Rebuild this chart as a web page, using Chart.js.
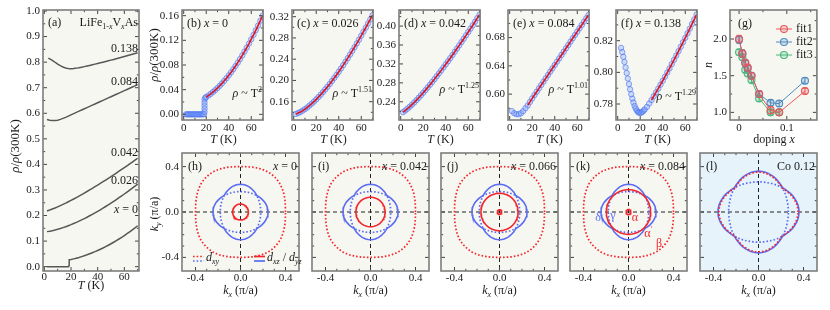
<!DOCTYPE html>
<html>
<head>
<meta charset="utf-8">
<script src="https://cdn.jsdelivr.net/npm/chart.js@4.4.1/dist/chart.umd.min.js"></script>
<style>
  body { margin: 0; background: #fff; }
  #fig { position: relative; width: 830px; height: 310px; overflow: hidden; background: #fff; }
  #fig canvas { position: absolute; }
</style>
</head>
<body>
<div id="fig"></div>
<script>
// ---- values ----

// (a)-(f): rho/rho(300K) of LiFe1-xVxAs against T (K)
const tX0 = [2,3,4,5,6,7,8,9,10,11,12,13,14,15,16,17,18,18.5,18.5,18.5,18.5,18.5,19.2,
  20,22,24,26,28,30,32,34,36,38,40,42,44,46,48,50,52,54,56,58,60,62,64,66,68,70];
const rhoX0 = [0,0,0,0,0,0,0,0,0,0,0,0,0,0,0,0,0,0.004,0.009,0.014,0.019,0.024,0.027,
  0.028,0.0305,0.0332,0.0361,0.0393,0.0427,0.0463,0.0502,0.0543,0.0586,0.0632,0.0680,0.0730,
  0.0783,0.0838,0.0895,0.0955,0.1017,0.1082,0.1148,0.1218,0.1289,0.1363,0.1439,0.1518,0.1599];
const tGrid = [2,4,6,8,10,12,14,16,18,20,22,24,26,28,30,32,34,36,38,40,42,44,46,48,50,52,54,56,58,60,62,64,66,68,70];
const rhoX026 = [0.1370,0.1386,0.1407,0.1432,0.1460,0.1491,0.1526,0.1562,0.1602,0.1643,0.1687,0.1732,
  0.1780,0.1830,0.1881,0.1934,0.1990,0.2046,0.2104,0.2164,0.2225,0.2288,0.2353,0.2419,0.2486,0.2555,
  0.2625,0.2697,0.2768,0.2842,0.2917,0.2994,0.3072,0.3150,0.3230];
const rhoX042 = [0.2180,0.2214,0.2253,0.2294,0.2339,0.2386,0.2435,0.2485,0.2538,0.2591,0.2646,0.2703,
  0.2760,0.2819,0.2879,0.2940,0.3001,0.3064,0.3127,0.3192,0.3256,0.3322,0.3389,0.3457,0.3525,0.3593,
  0.3663,0.3733,0.3804,0.3875,0.3946,0.4018,0.4092,0.4167,0.4241];
const rhoX084 = [0.576,0.573,0.5715,0.5715,0.573,0.576,0.580,0.584,0.589,0.594,0.5987,0.6034,0.6082,
  0.6129,0.6176,0.6223,0.627,0.6318,0.6365,0.6412,0.646,0.6506,0.6554,0.66,0.6648,0.6695,0.6742,
  0.679,0.6837,0.6884,0.6931,0.6978,0.7026,0.7073,0.712];
const tX138 = [3,4,5,6,7,8,9,10,11,12,13,14,15,16,17,18,19,20,21,22,23,24,
  26,28,30,32,34,36,38,40,42,44,46,48,50,52,54,56,58,60,62,64,66,68,70];
const rhoX138 = [0.8155,0.8128,0.8098,0.8066,0.8031,0.7996,0.7961,0.7926,0.7893,0.7862,0.7834,0.7809,
  0.7788,0.7772,0.7759,0.7750,0.7745,0.7744,0.7746,0.7751,0.7758,0.7766,
  0.7782,0.7803,0.7825,0.7849,0.7873,0.7897,0.7922,0.7947,0.7973,0.7999,0.8025,0.8052,0.8079,0.8106,
  0.8134,0.8162,0.8190,0.8218,0.8247,0.8276,0.8306,0.8335,0.8365];
const dopLabels = ['0', '0.026', '0.042', '0.084', '0.138'];
const fitFromT = [20, 2, 2, 16, 30];          // where the red power-law fit starts
const fitExp = ['2', '1.51', '1.25', '1.01', '1.29'];

// (g) fitted exponent n against doping x
const dopX = [0, 0.007, 0.013, 0.018, 0.026, 0.042, 0.066, 0.084, 0.138];
const nFit1 = [2.00, 1.80, 1.68, 1.61, 1.50, 1.25, 1.03, 1.00, 1.29];
const nFit2 = [1.99, 1.80, 1.67, 1.60, 1.50, 1.25, 1.13, 1.12, 1.43];
const nFit3 = [1.82, 1.75, 1.58, 1.53, 1.44, 1.19, 1.00, 1.00];
const errFit1 = [0.05, 0.05, 0.04, 0.04, 0.04, 0.04, 0.05, 0.04, 0.04];
const errFit2 = [0.05, 0.05, 0.04, 0.04, 0.04, 0.04, 0.04, 0.04, 0.04];
const errFit3 = [0.04, 0.04, 0.04, 0.04, 0.04, 0.04, 0.04, 0.04];

// (h)-(l) Fermi surfaces: kF (pi/a) over one octant, angles in degrees
const fsAng = [0, 5, 10, 15, 20, 25, 30, 35, 40, 45];
const kOuter = [0.245, 0.244, 0.242, 0.238, 0.234, 0.228, 0.222, 0.217, 0.211, 0.205];
const kInner = [0.180, 0.180, 0.181, 0.183, 0.185, 0.188, 0.191, 0.195, 0.200, 0.205];
const kBeta = [0.400, 0.401, 0.404, 0.409, 0.414, 0.420, 0.425, 0.430, 0.432, 0.433];
const kOuterCo = [0.360, 0.359, 0.356, 0.350, 0.343, 0.336, 0.327, 0.318, 0.310, 0.302];
const kInnerCo = [0.265, 0.266, 0.267, 0.269, 0.272, 0.277, 0.282, 0.288, 0.294, 0.302];
const kRedCo = [0.352, 0.351, 0.348, 0.343, 0.336, 0.329, 0.321, 0.313, 0.305, 0.298];
const kAlphaP = [0.07, 0.13, 0.165, 0.197];    // alpha' pocket for x = 0, 0.042, 0.066, 0.084
const kAlpha = [0, 0, 0.02, 0.022];
const fsLabels = ['x = 0', 'x = 0.042', 'x = 0.066', 'x = 0.084', 'Co 0.12'];

// tick labels
const tTicks = [0, 20, 40, 60], tMinor = [10, 30, 50, 70];
const aTicks = [0, 0.1, 0.2, 0.3, 0.4, 0.5, 0.6, 0.7, 0.8, 0.9, 1.0];
const aMinor = [0.05, 0.15, 0.25, 0.35, 0.45, 0.55, 0.65, 0.75, 0.85, 0.95];
const topTicks = [
  [0, 0.04, 0.08, 0.12, 0.16], [0.16, 0.20, 0.24, 0.28, 0.32], [0.24, 0.28, 0.32, 0.36, 0.40],
  [0.60, 0.64, 0.68], [0.78, 0.80, 0.82]];
const topMinor = [
  [0.02, 0.06, 0.10, 0.14], [0.14, 0.18, 0.22, 0.26, 0.30], [0.22, 0.26, 0.30, 0.34, 0.38, 0.42],
  [0.58, 0.62, 0.66, 0.70], [0.79, 0.81, 0.83]];
const nTicks = [1.0, 1.5, 2.0], nMinor = [1.25, 1.75, 2.25];
const xTicks = [0, 0.1], xMinor = [0.05, 0.15];
const kTicks = [-0.4, 0, 0.4], kMinor = [-0.3, -0.2, -0.1, 0.1, 0.2, 0.3];

// ---- drawing ----
const SERIF = '"Liberation Serif", "Times New Roman", serif';
Chart.defaults.font.family = SERIF;
Chart.defaults.font.size = 11;
Chart.defaults.color = '#1a1a1a';
const fig = document.getElementById('fig');
const RED = '#f2262b', BLUE = '#5a6cf2', DOT = [1.6, 2];

const pts = (xs, ys) => ys.map((y, i) => ({ x: xs[i], y }));
const isMajor = (list, v) => list.some(m => Math.abs(m - v) < 1e-9);

// text with italic / sub / sup pieces
function rich(ctx, parts, x, y, o = {}) {
  const size = o.size || 12, align = o.align || 'left';
  const font = p => (p.i ? 'italic ' : '') + (p.s ? Math.round(size * 0.68) : size) + 'px ' + SERIF;
  let w = 0;
  for (const p of parts) { ctx.font = font(p); w += ctx.measureText(p.t).width; }
  ctx.save();
  ctx.translate(x, y);
  if (o.rot) ctx.rotate(o.rot);
  let cx = align === 'right' ? -w : align === 'center' ? -w / 2 : 0;
  ctx.fillStyle = o.color || '#1a1a1a';
  ctx.textBaseline = 'middle';
  ctx.textAlign = 'left';
  for (const p of parts) {
    ctx.font = font(p);
    const dy = p.s === 'sub' ? size * 0.32 : p.s === 'sup' ? -size * 0.38 : 0;
    ctx.fillText(p.t, cx, dy);
    cx += ctx.measureText(p.t).width;
  }
  ctx.restore();
}

// plot background, frame and inward ticks on all four sides
Chart.register({
  id: 'frame',
  defaults: { bg: '#f7f7f2' },
  beforeDraw(chart, args, opts) {
    const { ctx, chartArea: c } = chart;
    ctx.save();
    ctx.fillStyle = opts.bg;
    ctx.fillRect(c.left, c.top, c.width, c.height);
    ctx.restore();
  },
  afterDatasetsDraw(chart) {
    const { ctx, chartArea: c } = chart;
    ctx.save();
    ctx.strokeStyle = '#444';
    ctx.lineWidth = 1;
    for (const s of [chart.scales.x, chart.scales.y]) {
      for (const t of s.ticks) {
        const L = isMajor(s._majors, t.value) ? 4 : 2.2;
        const p = s.getPixelForValue(t.value);
        ctx.beginPath();
        if (s.isHorizontal()) {
          ctx.moveTo(p, c.bottom); ctx.lineTo(p, c.bottom - L);
          ctx.moveTo(p, c.top); ctx.lineTo(p, c.top + L);
        } else {
          ctx.moveTo(c.left, p); ctx.lineTo(c.left + L, p);
          ctx.moveTo(c.right, p); ctx.lineTo(c.right - L, p);
        }
        ctx.stroke();
      }
    }
    ctx.strokeStyle = '#7d7d7d';
    ctx.lineWidth = 1.6;
    ctx.strokeRect(c.left, c.top, c.width, c.height);
    ctx.restore();
  }
});

function axis(o) {
  return {
    type: 'linear', min: o.min, max: o.max,
    grid: { display: false, drawTicks: false },
    border: { display: false },
    ticks: {
      display: o.show !== false, padding: o.pad, autoSkip: false, maxRotation: 0,
      font: { size: 11 }, color: '#1a1a1a',
      callback: v => (isMajor(o.major, v) ? o.fmt(v) : '')
    },
    afterBuildTicks: s => {
      s._majors = o.major;
      s.ticks = o.major.concat(o.minor).sort((a, b) => a - b).map(v => ({ value: v }));
    },
    afterFit: s => {
      if (s.isHorizontal()) s.height = o.size; else s.width = o.size;
      s.paddingLeft = s.paddingRight = s.paddingTop = s.paddingBottom = 0;
    }
  };
}

// one canvas per panel, placed so that its plot area lands on box (page px)
function makeChart(box, m, datasets, xs, ys, opt = {}) {
  const cv = document.createElement('canvas');
  const W = m.l + box.w + m.r, H = m.t + box.h + m.b;
  const ox = box.l - m.l, oy = box.t - m.t;
  cv.width = W; cv.height = H;
  Object.assign(cv.style, { left: ox + 'px', top: oy + 'px', width: W + 'px', height: H + 'px' });
  fig.appendChild(cv);
  const hook = fn => chart => {
    if (!fn) return;
    const c = chart.ctx;
    c.save(); c.translate(-ox, -oy); fn(c, chart, ox, oy); c.restore();
  };
  return new Chart(cv, {
    type: 'scatter',
    data: { datasets },
    options: {
      responsive: false, animation: false, devicePixelRatio: 1,
      layout: { padding: { left: m.l - ys.size, right: m.r, top: m.t, bottom: m.b - xs.size } },
      scales: { x: axis(xs), y: axis(ys) },
      plugins: { legend: { display: false }, tooltip: { enabled: false }, frame: { bg: opt.bg || '#f7f7f2' } }
    },
    plugins: [{ id: 'notes', beforeDatasetsDraw: hook(opt.under), afterDraw: hook(opt.over) }]
  });
}

const ROT = -Math.PI / 2;
const rhoTitle = [{ t: 'ρ', i: 1 }, { t: '/' }, { t: 'ρ', i: 1 }, { t: '(300K)' }];
const tTitle = [{ t: 'T', i: 1 }, { t: ' (K)' }];
const fmt1 = v => v.toFixed(1), fmt2 = v => v.toFixed(2), fmt0 = v => String(v);

// ---- (a) ----
const curvesA = [[tX0, rhoX0], [tGrid, rhoX026], [tGrid, rhoX042], [tGrid, rhoX084], [tX138, rhoX138]];
makeChart({ l: 43, t: 10, w: 96, h: 261 }, { l: 43, t: 10, r: 4, b: 38 },
  curvesA.map(([t, r]) => ({ data: pts(t, r), showLine: true, borderColor: '#575757', borderWidth: 1.5, pointRadius: 0 })),
  { min: -1, max: 71, major: tTicks, minor: tMinor, fmt: fmt0, size: 14, pad: 0 },
  { min: -0.017, max: 1.004, major: aTicks, minor: aMinor, fmt: fmt1, size: 26, pad: 3 },
  {
    over: ctx => {
      rich(ctx, [{ t: '(a)' }], 48, 23);
      rich(ctx, [{ t: 'LiFe' }, { t: '1-', s: 'sub' }, { t: 'x', i: 1, s: 'sub' }, { t: 'V' },
        { t: 'x', i: 1, s: 'sub' }, { t: 'As' }], 138, 23, { align: 'right' });
      rich(ctx, [{ t: '0.138' }], 138, 49, { align: 'right' });
      rich(ctx, [{ t: '0.084' }], 138, 82, { align: 'right' });
      rich(ctx, [{ t: '0.042' }], 138, 153, { align: 'right' });
      rich(ctx, [{ t: '0.026' }], 138, 181, { align: 'right' });
      rich(ctx, [{ t: 'x', i: 1 }, { t: ' = 0' }], 138, 210, { align: 'right' });
      rich(ctx, rhoTitle, 16, 146, { align: 'center', rot: ROT, size: 13 });
      rich(ctx, tTitle, 91, 286, { align: 'center' });
    }
  });

// ---- (b)-(f) ----
const topData = [[tX0, rhoX0], [tGrid, rhoX026], [tGrid, rhoX042], [tGrid, rhoX084], [tX138, rhoX138]];
const topLeft = [182, 292, 399, 508, 616];
const topRange = [[-0.0092, 0.1692], [0.1255, 0.3326], [0.2015, 0.434], [0.5634, 0.719], [0.7699, 0.8394]];
const topTags = ['(b)', '(c)', '(d)', '(e)', '(f)'];
const topLawY = [94, 94, 90, 90, 97];
topData.forEach(([t, r], k) => {
  const box = { l: topLeft[k], t: 10, w: 83, h: 110 };
  const fit = pts(t, r).filter(p => p.x >= fitFromT[k]);
  makeChart(box, { l: k === 0 ? 36 : 30, t: 10, r: 3, b: 30 }, [
    { data: fit, showLine: true, borderColor: '#e3161c', borderWidth: 1.6, pointRadius: 0 },
    { data: pts(t, r), pointRadius: 2.7, borderWidth: 0.9, borderColor: 'rgba(75,115,240,0.7)',
      backgroundColor: 'rgba(130,165,255,0.35)' }
  ],
  { min: -1.5, max: 70.5, major: tTicks, minor: tMinor, fmt: fmt0, size: 16, pad: 2 },
  { min: topRange[k][0], max: topRange[k][1], major: topTicks[k], minor: topMinor[k], fmt: fmt2, size: 28, pad: 3 },
  {
    over: ctx => {
      rich(ctx, [{ t: topTags[k] + ' ' }, { t: 'x', i: 1 }, { t: ' = ' + dopLabels[k] }], box.l + 5, 24);
      rich(ctx, [{ t: 'ρ', i: 1 }, { t: ' ~ T' }, { t: fitExp[k], s: 'sup' }], box.l + box.w - 3, topLawY[k], { align: 'right' });
      rich(ctx, tTitle, box.l + box.w / 2, 140, { align: 'center' });
      if (k === 0) rich(ctx, rhoTitle, 155, 55, { align: 'center', rot: ROT, size: 13 });
    }
  });
});

// ---- (g) ----
const gSets = [
  { n: nFit1, e: errFit1, c: '#e9575c', f: 'rgba(233,87,92,0.22)', name: 'fit1' },
  { n: nFit2, e: errFit2, c: '#4f8cc0', f: 'rgba(79,140,192,0.22)', name: 'fit2' },
  { n: nFit3, e: errFit3, c: '#45b87a', f: 'rgba(69,184,122,0.22)', name: 'fit3' }
];
makeChart({ l: 730, t: 10, w: 88, h: 110 }, { l: 26, t: 10, r: 4, b: 30 },
  gSets.map(g => ({
    data: pts(dopX, g.n), errs: g.e, showLine: true, borderColor: g.c, borderWidth: 1,
    pointRadius: 3.5, pointBorderWidth: 1.1, pointBorderColor: g.c, pointBackgroundColor: g.f
  })),
  { min: -0.019, max: 0.163, major: xTicks, minor: xMinor, fmt: v => (v === 0 ? '0' : '0.1'), size: 16, pad: 2 },
  { min: 0.896, max: 2.395, major: nTicks, minor: nMinor, fmt: fmt1, size: 18, pad: 3 },
  {
    under: (ctx, chart, ox, oy) => {
      const sx = chart.scales.x, sy = chart.scales.y;
      chart.data.datasets.forEach(ds => {
        ctx.strokeStyle = ds.borderColor;
        ctx.lineWidth = 1;
        ds.data.forEach((p, i) => {
          const x = sx.getPixelForValue(p.x) + ox;
          const y1 = sy.getPixelForValue(p.y - ds.errs[i]) + oy;
          const y2 = sy.getPixelForValue(p.y + ds.errs[i]) + oy;
          ctx.beginPath();
          ctx.moveTo(x, y1); ctx.lineTo(x, y2);
          ctx.moveTo(x - 2.5, y1); ctx.lineTo(x + 2.5, y1);
          ctx.moveTo(x - 2.5, y2); ctx.lineTo(x + 2.5, y2);
          ctx.stroke();
        });
      });
    },
    over: ctx => {
      rich(ctx, [{ t: '(g)' }], 738, 24);
      gSets.forEach((g, i) => {
        const y = 29 + i * 13;
        ctx.strokeStyle = g.c; ctx.lineWidth = 1;
        ctx.beginPath(); ctx.moveTo(776, y); ctx.lineTo(792, y); ctx.stroke();
        ctx.fillStyle = g.f; ctx.lineWidth = 1.1;
        ctx.beginPath(); ctx.arc(784, y, 3.5, 0, 2 * Math.PI); ctx.fill(); ctx.stroke();
        rich(ctx, [{ t: g.name }], 796, y);
      });
      rich(ctx, [{ t: 'n', i: 1 }], 709, 65, { align: 'center', rot: ROT });
      rich(ctx, [{ t: 'doping ' }, { t: 'x', i: 1 }], 774, 140, { align: 'center' });
    }
  });

// ---- (h)-(l) ----
// closed contour from one octant of kF values (C4 symmetric, mirrored about 45 deg)
function contour(oct) {
  const step = fsAng[1] - fsAng[0];
  const out = [];
  for (let a = 0; a <= 360; a += step) {
    let f = a % 90;
    if (f > 45) f = 90 - f;
    const r = oct[fsAng.indexOf(f)];
    const th = a * Math.PI / 180;
    out.push({ x: r * Math.cos(th), y: r * Math.sin(th) });
  }
  return out;
}
const ring = r => contour(fsAng.map(() => r));
const fsLine = (data, color, dash) => ({
  data, showLine: true, borderColor: color, borderWidth: dash ? 1.7 : 1.6, borderDash: dash || [],
  pointRadius: 0, tension: 0
});

const fsLeft = [182, 312, 441, 570, 700];
const fsTags = ['(h)', '(i)', '(j)', '(k)', '(l)'];
fsLeft.forEach((l, k) => {
  const box = { l, t: 153, w: 117, h: 118 };
  let ds;
  if (k < 4) {
    ds = [];
    if (kAlpha[k]) ds.push(fsLine(ring(kAlpha[k]), RED));
    ds.push(fsLine(ring(kAlphaP[k]), RED));
    ds.push(fsLine(contour(kOuter), BLUE));
    ds.push(fsLine(contour(kInner), BLUE, DOT));
    ds.push(fsLine(contour(kBeta), RED, DOT));
  } else {
    ds = [fsLine(contour(kRedCo), RED, DOT), fsLine(contour(kOuterCo), BLUE), fsLine(contour(kInnerCo), BLUE, DOT)];
  }
  const labT = fsLabels[k].startsWith('x')
    ? [{ t: 'x', i: 1 }, { t: fsLabels[k].slice(1) }] : [{ t: fsLabels[k] }];
  makeChart(box, { l: k === 0 ? 32 : 6, t: 4, r: 4, b: 36 }, ds,
    { min: -0.52, max: 0.52, major: kTicks, minor: kMinor, fmt: fmt1, size: 16, pad: 1 },
    { min: -0.52, max: 0.52, major: kTicks, minor: kMinor, fmt: fmt1, size: k === 0 ? 26 : 6, pad: 3, show: k === 0 },
    {
      bg: k === 4 ? '#e6f3fb' : '#f7f7f2',
      under: (ctx, chart, ox, oy) => {
        const c = chart.chartArea;
        const x0 = chart.scales.x.getPixelForValue(0) + ox, y0 = chart.scales.y.getPixelForValue(0) + oy;
        ctx.strokeStyle = '#222'; ctx.lineWidth = 1; ctx.setLineDash([4, 3]);
        ctx.beginPath();
        ctx.moveTo(x0, c.top + oy); ctx.lineTo(x0, c.bottom + oy);
        ctx.moveTo(c.left + ox, y0); ctx.lineTo(c.right + ox, y0);
        ctx.stroke();
      },
      over: ctx => {
        rich(ctx, [{ t: fsTags[k] }], l + 6, 167);
        rich(ctx, labT, l + box.w - 2, 167, { align: 'right' });
        rich(ctx, [{ t: 'k', i: 1 }, { t: 'x', i: 1, s: 'sub' }, { t: ' (π/a)' }], l + box.w / 2, 291, { align: 'center' });
        if (k === 0) {
          rich(ctx, [{ t: 'k', i: 1 }, { t: 'y', i: 1, s: 'sub' }, { t: ' (π/a)' }], 155, 214, { align: 'center', rot: ROT });
          ctx.lineWidth = 1.7;
          [[RED, 256.5], [BLUE, 261]].forEach(([col, y]) => {
            ctx.strokeStyle = col;
            ctx.setLineDash(DOT);
            ctx.beginPath(); ctx.moveTo(193, y); ctx.lineTo(204, y); ctx.stroke();
            ctx.setLineDash([]);
            ctx.beginPath(); ctx.moveTo(254, y); ctx.lineTo(265, y); ctx.stroke();
          });
          rich(ctx, [{ t: 'd', i: 1 }, { t: 'xy', i: 1, s: 'sub' }], 206, 258);
          rich(ctx, [{ t: 'd', i: 1 }, { t: 'xz', i: 1, s: 'sub' }, { t: ' / ' }, { t: 'd', i: 1 }, { t: 'yz', i: 1, s: 'sub' }], 267, 258);
        }
        if (k === 3) {
          rich(ctx, [{ t: 'δ' }], 598, 218, { align: 'center', color: BLUE });
          rich(ctx, [{ t: 'γ' }], 613, 216, { align: 'center', color: BLUE });
          rich(ctx, [{ t: 'α' }], 635, 218, { align: 'center', color: RED });
          rich(ctx, [{ t: 'α' }, { t: "'", s: 'sup' }], 648, 234, { align: 'center', color: RED });
          rich(ctx, [{ t: 'β' }], 659, 244, { align: 'center', color: RED });
        }
      }
    });
});
</script>
</body>
</html>
